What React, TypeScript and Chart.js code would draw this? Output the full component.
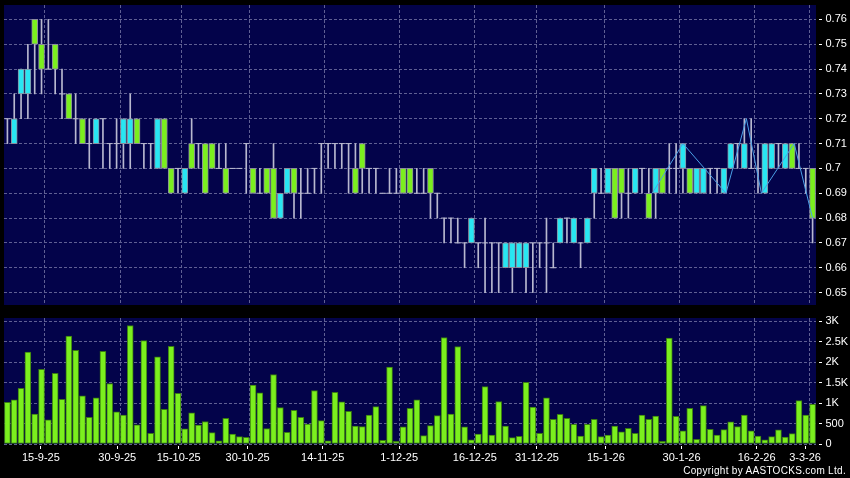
import React, { useEffect, useRef } from 'react';
import { Chart, registerables } from 'chart.js';

Chart.register(...registerables);

// ---- data ----
const days = [
  '8-9-25','9-9-25','10-9-25','11-9-25','12-9-25','15-9-25','16-9-25','17-9-25','18-9-25','19-9-25',
  '22-9-25','23-9-25','24-9-25','25-9-25','26-9-25','29-9-25','30-9-25','2-10-25','3-10-25','6-10-25',
  '8-10-25','9-10-25','10-10-25','13-10-25','14-10-25','15-10-25','16-10-25','17-10-25','20-10-25','21-10-25',
  '22-10-25','23-10-25','24-10-25','27-10-25','28-10-25','30-10-25','31-10-25','3-11-25','4-11-25','5-11-25',
  '6-11-25','7-11-25','10-11-25','11-11-25','12-11-25','13-11-25','14-11-25','17-11-25','18-11-25','19-11-25',
  '20-11-25','21-11-25','24-11-25','25-11-25','26-11-25','27-11-25','28-11-25','1-12-25','2-12-25','3-12-25',
  '4-12-25','5-12-25','8-12-25','9-12-25','10-12-25','11-12-25','12-12-25','15-12-25','16-12-25','17-12-25',
  '18-12-25','19-12-25','22-12-25','23-12-25','24-12-25','29-12-25','30-12-25','31-12-25','2-1-26','5-1-26',
  '6-1-26','7-1-26','8-1-26','9-1-26','12-1-26','13-1-26','14-1-26','15-1-26','16-1-26','19-1-26',
  '20-1-26','21-1-26','22-1-26','23-1-26','26-1-26','27-1-26','28-1-26','29-1-26','30-1-26','2-2-26',
  '3-2-26','4-2-26','5-2-26','6-2-26','9-2-26','10-2-26','11-2-26','12-2-26','13-2-26','16-2-26',
  '20-2-26','23-2-26','24-2-26','25-2-26','26-2-26','27-2-26','2-3-26','3-3-26','4-3-26'
];

const opens = [
  0.72,0.71,0.73,0.73,0.76,0.75,0.74,0.75,0.73,0.73,
  0.72,0.72,0.71,0.71,0.72,0.71,0.71,0.71,0.71,0.72,
  0.71,0.71,0.70,0.72,0.70,0.70,0.69,0.71,0.71,0.71,
  0.71,0.70,0.70,0.70,0.70,0.71,0.70,0.69,0.70,0.70,
  0.68,0.69,0.70,0.69,0.69,0.70,0.71,0.71,0.71,0.71,
  0.71,0.70,0.71,0.70,0.70,0.69,0.69,0.69,0.70,0.70,
  0.69,0.69,0.70,0.69,0.68,0.68,0.67,0.67,0.67,0.67,
  0.67,0.67,0.67,0.66,0.66,0.66,0.66,0.67,0.67,0.67,
  0.66,0.67,0.68,0.67,0.67,0.67,0.69,0.69,0.69,0.70,
  0.70,0.69,0.69,0.70,0.69,0.69,0.70,0.70,0.70,0.70,
  0.70,0.69,0.69,0.70,0.70,0.69,0.70,0.71,0.70,0.70,
  0.70,0.69,0.70,0.71,0.70,0.71,0.70,0.70,0.70
];
const highs = [
  0.72,0.73,0.74,0.75,0.76,0.76,0.76,0.75,0.74,0.73,
  0.73,0.72,0.72,0.72,0.72,0.71,0.72,0.72,0.73,0.72,
  0.71,0.71,0.72,0.72,0.70,0.70,0.70,0.72,0.71,0.71,
  0.71,0.71,0.71,0.70,0.70,0.71,0.70,0.70,0.70,0.71,
  0.69,0.70,0.70,0.70,0.70,0.70,0.71,0.71,0.71,0.71,
  0.71,0.71,0.71,0.70,0.70,0.69,0.70,0.70,0.70,0.70,
  0.70,0.70,0.70,0.69,0.68,0.68,0.68,0.67,0.68,0.67,
  0.68,0.67,0.67,0.67,0.67,0.67,0.67,0.67,0.67,0.68,
  0.67,0.68,0.68,0.68,0.67,0.68,0.70,0.70,0.70,0.70,
  0.70,0.70,0.70,0.70,0.70,0.70,0.70,0.71,0.71,0.71,
  0.70,0.70,0.70,0.70,0.70,0.70,0.71,0.71,0.72,0.72,
  0.71,0.71,0.71,0.71,0.71,0.71,0.71,0.70,0.70
];
const lows = [
  0.71,0.71,0.72,0.72,0.73,0.73,0.74,0.73,0.72,0.72,
  0.71,0.71,0.70,0.71,0.70,0.70,0.70,0.70,0.70,0.71,
  0.70,0.70,0.70,0.70,0.69,0.69,0.69,0.70,0.70,0.69,
  0.70,0.70,0.69,0.70,0.70,0.69,0.69,0.69,0.69,0.68,
  0.68,0.69,0.68,0.68,0.69,0.69,0.69,0.70,0.70,0.70,
  0.69,0.69,0.69,0.69,0.69,0.69,0.69,0.69,0.69,0.69,
  0.69,0.69,0.68,0.68,0.67,0.67,0.67,0.66,0.67,0.66,
  0.65,0.65,0.65,0.66,0.65,0.66,0.65,0.65,0.66,0.65,
  0.66,0.67,0.67,0.67,0.66,0.67,0.68,0.69,0.69,0.68,
  0.68,0.68,0.69,0.69,0.68,0.68,0.69,0.69,0.69,0.69,
  0.69,0.69,0.69,0.69,0.69,0.69,0.70,0.70,0.70,0.70,
  0.69,0.69,0.70,0.70,0.70,0.70,0.70,0.69,0.67
];
const closes = [
  0.72,0.72,0.74,0.74,0.75,0.74,0.74,0.74,0.73,0.72,
  0.72,0.71,0.71,0.72,0.72,0.71,0.71,0.72,0.72,0.71,
  0.71,0.71,0.72,0.70,0.69,0.70,0.70,0.70,0.71,0.69,
  0.70,0.70,0.69,0.70,0.70,0.71,0.69,0.69,0.69,0.68,
  0.69,0.70,0.69,0.69,0.69,0.70,0.71,0.71,0.71,0.71,
  0.71,0.69,0.70,0.70,0.70,0.69,0.69,0.69,0.69,0.69,
  0.69,0.69,0.69,0.69,0.68,0.68,0.67,0.67,0.68,0.67,
  0.67,0.67,0.67,0.67,0.67,0.67,0.67,0.67,0.67,0.67,
  0.66,0.68,0.68,0.68,0.67,0.68,0.70,0.69,0.70,0.68,
  0.69,0.69,0.70,0.70,0.68,0.70,0.69,0.70,0.70,0.71,
  0.69,0.70,0.70,0.70,0.70,0.70,0.71,0.71,0.71,0.70,
  0.70,0.71,0.71,0.71,0.71,0.70,0.70,0.70,0.68
];
const volumes = [
  1020,1080,1360,2250,730,1830,590,1730,1090,2640,
  2290,1180,650,1130,2270,1480,790,710,2900,470,
  2530,260,2130,850,2390,1240,370,760,460,550,
  280,75,630,240,180,165,1440,1250,380,1700,
  890,285,825,655,490,1310,570,80,1265,1030,
  800,440,425,710,915,90,1880,65,420,875,
  1080,205,450,695,2605,735,2385,420,105,245,
  1405,220,1040,440,155,190,1510,905,260,1130,
  605,725,630,480,195,480,605,180,220,440,
  295,385,260,705,605,685,65,2590,680,325,
  875,115,940,360,220,350,545,425,710,325,
  195,105,180,345,170,255,1060,705,970
];

// zig-zag swing line (trading-day position, price)
const zigX = [94.5, 99, 105.3, 108.3, 110.5, 115.3, 118];
const zigY = [0.69, 0.71, 0.69, 0.72, 0.69, 0.71, 0.68];

const tickLabels = ['15-9-25','30-9-25','15-10-25','30-10-25','14-11-25','1-12-25','16-12-25','31-12-25','15-1-26','30-1-26','16-2-26','3-3-26'];
const tickAt = [4.9, 16.1, 25.1, 35.2, 46.2, 57.4, 68.5, 77.6, 87.7, 98.8, 109.8, 116.9];
const priceTicks = [0.65,0.66,0.67,0.68,0.69,0.7,0.71,0.72,0.73,0.74,0.75,0.76];
const volTicks = [0,500,1000,1500,2000,2500,3000];
const volTickLabels = ['0','500','1K','1.5K','2K','2.5K','3K'];

// ---- style ----
const NAVY = '#03034a';
const GRID = '#5f5f93';
const WICK = '#b8b8cf';
const BODY_BORDER = '#8c8c9c';
const CYAN = '#28e6f2';
const GREEN = '#7bef1e';
const VOL_BORDER = '#3a7a12';
const ZIG = '#4a9fe6';
const FONT = "'Liberation Sans', Arial, sans-serif";
const DASH = [3, 2];

const n = days.length;
const X_MIN = -0.5;
const X_MAX = n - 0.5;
const gridAt = tickAt.map(t => Math.floor(t + 0.1) + 0.5);

const bgPlugin = {
  id: 'bgFill',
  beforeDraw(chart: any) {
    const { ctx, chartArea: a } = chart;
    ctx.save();
    ctx.fillStyle = '#000';
    ctx.fillRect(0, 0, chart.width, chart.height);
    ctx.fillStyle = NAVY;
    ctx.fillRect(a.left, a.top, a.right - a.left, a.bottom - a.top);
    ctx.restore();
  },
};

const gridXAxis = () => ({
  type: 'linear',
  min: X_MIN,
  max: X_MAX,
  offset: false,
  position: 'bottom',
  grid: { offset: false, color: GRID, lineWidth: 1, drawTicks: false },
  border: { display: false, dash: DASH },
  ticks: { display: false },
  afterBuildTicks: (s: any) => { s.ticks = gridAt.map(v => ({ value: v })); },
  afterFit: (s: any) => { s.height = 0; s.paddingLeft = 0; s.paddingRight = 0; },
});

function priceConfig(): any {
  const idx = days.map((_, i) => i);
  const wickData = idx.map(i => ({ x: i, y: [lows[i], highs[i]] }));
  const bodyIdx = idx.filter(i => opens[i] !== closes[i]);
  const bodyData = bodyIdx.map(i => ({ x: i, y: [Math.min(opens[i], closes[i]), Math.max(opens[i], closes[i])] }));
  const bodyColors = bodyIdx.map(i => (closes[i] > opens[i] ? CYAN : GREEN));
  const dojiData = idx.filter(i => opens[i] === closes[i]).map(i => ({ x: i, y: closes[i] }));
  const zigData = zigX.map((x, k) => ({ x, y: zigY[k] }));

  return {
    type: 'bar',
    data: {
      datasets: [
        { type: 'bar', data: wickData, backgroundColor: WICK, borderWidth: 0, barThickness: 1, grouped: false, order: 3 },
        { type: 'bar', data: bodyData, backgroundColor: bodyColors, borderColor: BODY_BORDER, borderWidth: 1, borderSkipped: false, barThickness: 6, grouped: false, order: 2 },
        { type: 'line', data: dojiData, showLine: false, pointStyle: 'line', pointRadius: 3, pointHoverRadius: 3, pointBorderColor: WICK, pointBackgroundColor: WICK, pointBorderWidth: 1, order: 2 },
        { type: 'line', data: zigData, borderColor: ZIG, borderWidth: 1, pointRadius: 0, tension: 0, order: 1 },
      ],
    },
    options: {
      animation: false,
      responsive: false,
      events: [],
      layout: { padding: { top: 5, bottom: 5, left: 4, right: 0 } },
      plugins: { legend: { display: false }, tooltip: { enabled: false } },
      scales: {
        x: gridXAxis(),
        y: {
          type: 'linear',
          position: 'right',
          min: 0.645,
          max: 0.7658,
          beginAtZero: false,
          grid: { color: GRID, lineWidth: 1, tickColor: '#ffffff', tickLength: 7, tickBorderDash: [0, 3, 3, 20] },
          border: { display: false, dash: DASH },
          ticks: { color: '#ffffff', font: { size: 11, family: FONT }, padding: 2.5, callback: (v: number) => String(v) },
          afterBuildTicks: (s: any) => { s.ticks = priceTicks.map(v => ({ value: v })); },
          afterFit: (s: any) => { s.width = 34; s.paddingTop = 0; s.paddingBottom = 0; },
        },
      },
    },
    plugins: [bgPlugin],
  };
}

function volumeConfig(): any {
  return {
    type: 'bar',
    data: {
      datasets: [
        {
          type: 'bar',
          data: volumes.map((v, i) => ({ x: i, y: v })),
          backgroundColor: GREEN,
          borderColor: VOL_BORDER,
          borderWidth: 1,
          borderSkipped: false,
          barThickness: 6,
          grouped: false,
          xAxisID: 'x',
          yAxisID: 'y',
        },
      ],
    },
    options: {
      animation: false,
      responsive: false,
      events: [],
      layout: { padding: { top: 6, bottom: 0, left: 4, right: 0 } },
      plugins: { legend: { display: false }, tooltip: { enabled: false } },
      scales: {
        x: {
          type: 'linear',
          min: X_MIN,
          max: X_MAX,
          offset: false,
          position: 'bottom',
          grid: { offset: false, drawOnChartArea: false, drawTicks: true, tickLength: 5, tickColor: '#ffffff', tickWidth: 1, tickBorderDash: [0, 2, 3, 10] },
          border: { display: false },
          ticks: { color: '#ffffff', font: { size: 11, family: FONT }, padding: 2, autoSkip: false, maxRotation: 0, minRotation: 0, callback: (_v: number, i: number) => tickLabels[i] },
          afterBuildTicks: (s: any) => { s.ticks = tickAt.map(v => ({ value: v })); },
          afterFit: (s: any) => { s.height = 34; s.paddingLeft = 0; s.paddingRight = 0; },
        },
        xg: gridXAxis(),
        y: {
          type: 'linear',
          position: 'right',
          min: 0,
          max: 3083,
          grid: { color: GRID, lineWidth: 1, tickColor: '#ffffff', tickLength: 7, tickBorderDash: [0, 3, 3, 20] },
          border: { display: false, dash: DASH },
          ticks: { color: '#ffffff', font: { size: 11, family: FONT }, padding: 2.5, callback: (_v: number, i: number) => volTickLabels[i] },
          afterBuildTicks: (s: any) => { s.ticks = volTicks.map(v => ({ value: v })); },
          afterFit: (s: any) => { s.width = 34; s.paddingTop = 0; s.paddingBottom = 0; },
        },
      },
    },
    plugins: [bgPlugin],
  };
}

export default function App() {
  const topRef = useRef<HTMLCanvasElement>(null);
  const botRef = useRef<HTMLCanvasElement>(null);

  useEffect(() => {
    const c1 = new Chart(topRef.current as HTMLCanvasElement, priceConfig());
    const c2 = new Chart(botRef.current as HTMLCanvasElement, volumeConfig());
    return () => {
      c1.destroy();
      c2.destroy();
    };
  }, []);

  return (
    <div style={{ position: 'fixed', left: 0, top: 0, width: 850, height: 478, background: '#000', overflow: 'hidden' }}>
      <canvas ref={topRef} width={850} height={310} style={{ position: 'absolute', left: 0, top: 0, width: 850, height: 310 }} />
      <canvas ref={botRef} width={850} height={166} style={{ position: 'absolute', left: 0, top: 312, width: 850, height: 166 }} />
      <div
        style={{
          position: 'absolute',
          right: 4,
          top: 465,
          color: '#ffffff',
          fontFamily: FONT,
          fontSize: 10,
          letterSpacing: '0.3px',
          lineHeight: '12px',
          whiteSpace: 'nowrap',
        }}
      >
        Copyright by AASTOCKS.com Ltd.
      </div>
    </div>
  );
}
